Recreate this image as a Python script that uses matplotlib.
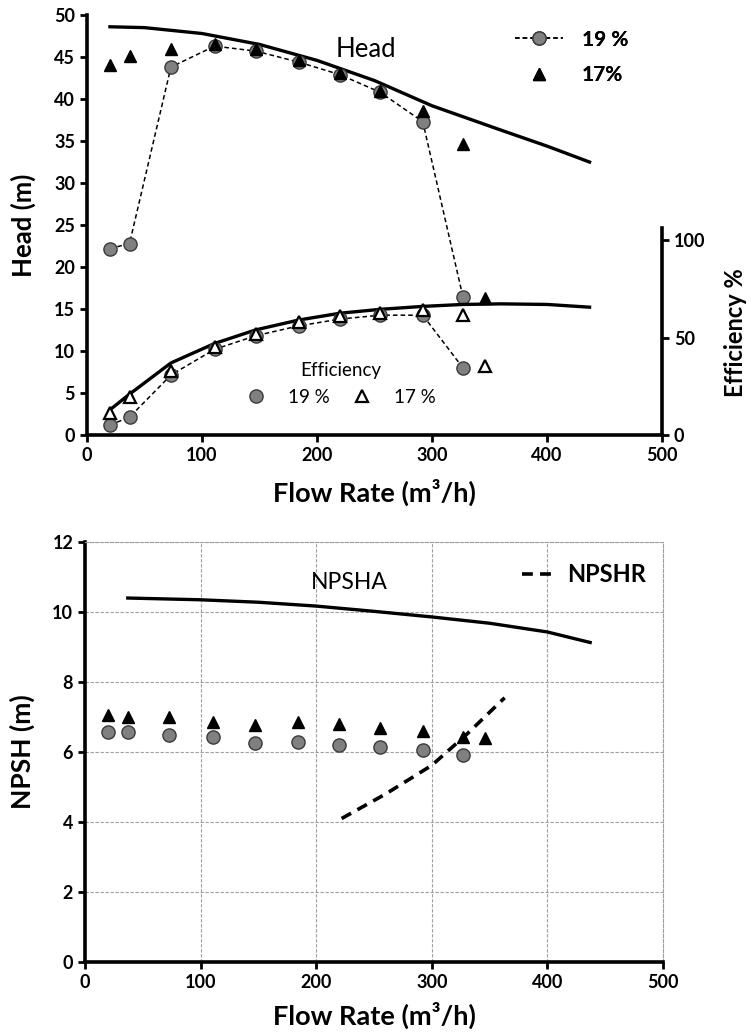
import matplotlib
matplotlib.use("Agg")
import matplotlib.pyplot as plt
from matplotlib.lines import Line2D

plt.rcParams['font.family'] = ['Lato', 'DejaVu Sans']

# ---------------- data ----------------
flow19 = [20, 37, 73, 111, 147, 184, 220, 255, 292, 327]
head19 = [22.2, 22.8, 43.8, 46.3, 45.7, 44.4, 42.9, 40.8, 37.3, 16.4]
eff19 = [5.2, 9.2, 30.8, 44.0, 51.0, 56.0, 59.5, 61.5, 61.5, 34.4]
npsh19 = [6.57, 6.56, 6.49, 6.43, 6.26, 6.28, 6.20, 6.14, 6.06, 5.91]

flow17 = [20, 37, 73, 111, 147, 184, 220, 255, 292, 327, 346]
head17 = [44.1, 45.1, 46.0, 46.6, 45.9, 44.6, 43.1, 41.0, 38.6, 34.7, 16.3]
eff17 = [11.3, 19.5, 33.0, 45.0, 52.0, 58.0, 61.0, 62.5, 64.0, 61.5, 35.4]
npsh17 = [7.05, 7.0, 7.0, 6.86, 6.77, 6.86, 6.8, 6.7, 6.6, 6.43, 6.4]

head_curve_flow = [20, 50, 100, 150, 200, 250, 300, 360, 400, 437]
head_curve = [48.6, 48.5, 47.8, 46.5, 44.6, 42.2, 39.2, 36.3, 34.4, 32.5]

eff_curve_flow = [20, 37, 73, 111, 147, 184, 220, 255, 292, 327, 360, 400, 437]
eff_curve = [13, 21, 37, 47, 54, 59, 62.5, 64.5, 66, 67, 67.3, 67, 65.6]

npsha_flow = [37, 100, 150, 200, 250, 300, 350, 400, 437]
npsha = [10.4, 10.35, 10.28, 10.17, 10.02, 9.86, 9.68, 9.43, 9.13]

npshr_flow = [222, 260, 300, 330, 363]
npshr = [4.1, 4.8, 5.62, 6.5, 7.55]

x_ticks = [0, 100, 200, 300, 400, 500]
head_ticks = [0, 5, 10, 15, 20, 25, 30, 35, 40, 45, 50]
eff_ticks = [0, 50, 100]
npsh_ticks = [0, 2, 4, 6, 8, 10, 12]

# ---------------- styles ----------------
GREY = '#808080'
EDGE = '#3a3a3a'
circ = dict(marker='o', markersize=9.5, markerfacecolor=GREY,
            markeredgecolor=EDGE, markeredgewidth=1.0)
tri = dict(marker='^', markersize=8, color='black', linestyle='none')
otri = dict(marker='^', markersize=8.5, markerfacecolor='white',
            markeredgecolor='black', markeredgewidth=1.6, linestyle='none')

fig = plt.figure(figsize=(7.51, 10.36), dpi=100)

def style_axis(a):
    a.tick_params(axis='both', which='major', direction='out', length=5,
                  width=2.0, labelsize=13)
    for lab in a.get_xticklabels() + a.get_yticklabels():
        lab.set_fontweight('bold')

# ================= top chart =================
ax = fig.add_axes([0.1158, 0.580, 0.7657, 0.4055])
ax.plot(head_curve_flow, head_curve, color='black', lw=2.4, zorder=3)
ax.plot(flow19, head19, linestyle=(0, (3, 2)), color='black', lw=1.1,
        zorder=4, **circ)
ax.plot(flow17, head17, zorder=5, **tri)
ax.set_xlim(0, 500)
ax.set_ylim(0, 50)
ax.set_xticks(x_ticks)
ax.set_yticks(head_ticks)
for s in ['top', 'right']:
    ax.spines[s].set_visible(False)
for s in ['left', 'bottom']:
    ax.spines[s].set_linewidth(2.6)
style_axis(ax)
ax.set_xlabel('Flow Rate (m³/h)', fontsize=19.5, fontweight='bold')
ax.xaxis.set_label_coords(0.5, -0.105)
ax.set_ylabel('Head (m)', fontsize=18.5, fontweight='bold')
ax.yaxis.set_label_coords(-0.089, 0.5)

ax.text(243, 45.9, 'Head', fontsize=18.5, ha='center', va='center')

leg_handles = [
    Line2D([], [], linestyle=(0, (3, 2)), color='black', lw=1.1, **circ),
    Line2D([], [], **tri),
]
leg = ax.legend(leg_handles, ['19 %', '17%'], loc='upper left',
                bbox_to_anchor=(0.712, 1.01), frameon=False,
                prop={'size': 15, 'weight': 'bold'}, handlelength=2.3,
                handletextpad=0.9, labelspacing=0.75)
ax.add_artist(leg)

# efficiency overlay
ax2 = ax.twinx()
ax2.set_ylim(0, 215.4)
ax2.plot(eff_curve_flow, eff_curve, color='black', lw=2.4, zorder=3)
ax2.plot(flow19, eff19, linestyle=(0, (3, 2)), color='black', lw=1.1,
         zorder=4, **circ)
ax2.plot(flow17, eff17, zorder=5, **otri)
ax2.set_yticks(eff_ticks)
for s in ['top', 'left', 'bottom']:
    ax2.spines[s].set_visible(False)
ax2.spines['right'].set_linewidth(2.6)
ax2.spines['right'].set_bounds(0, 106)
style_axis(ax2)
ax2.set_ylabel('Efficiency %', fontsize=17, fontweight='bold')
ax2.yaxis.set_label_coords(1.108, 0.245)

eff_handles = [
    Line2D([], [], linestyle='none', **circ),
    Line2D([], [], **otri),
]
leg2 = ax2.legend(eff_handles, ['19 %', '17 %'], loc='center',
                  bbox_to_anchor=(0.442, 0.122), ncol=2, frameon=False,
                  title='Efficiency', title_fontproperties={'size': 13.5},
                  prop={'size': 13.5}, handlelength=1.0, handletextpad=1.2,
                  columnspacing=1.2)

# ================= bottom chart =================
bx = fig.add_axes([0.1132, 0.0714, 0.7696, 0.4054])
bx.grid(True, color='#a0a0a0', linestyle=(0, (3, 1.5)), lw=0.8)
bx.set_axisbelow(True)
bx.plot(npsha_flow, npsha, color='black', lw=2.4, zorder=3)
bx.plot(npshr_flow, npshr, color='black', lw=2.6, linestyle=(0, (3, 2)),
        zorder=3, label='NPSHR')
bx.plot(flow19, npsh19, linestyle='none', zorder=4, **circ)
bx.plot(flow17, npsh17, zorder=5, **tri)
bx.set_xlim(0, 500)
bx.set_ylim(0, 12)
bx.set_xticks(x_ticks)
bx.set_yticks(npsh_ticks)
for s in ['top', 'right']:
    bx.spines[s].set_linestyle((0, (3, 1.5)))
    bx.spines[s].set_color('#a0a0a0')
    bx.spines[s].set_linewidth(0.8)
for s in ['left', 'bottom']:
    bx.spines[s].set_linewidth(2.6)
style_axis(bx)
bx.set_xlabel('Flow Rate (m³/h)', fontsize=19.5, fontweight='bold')
bx.xaxis.set_label_coords(0.5, -0.095)
bx.set_ylabel('NPSH (m)', fontsize=19, fontweight='bold')
bx.yaxis.set_label_coords(-0.087, 0.5)
bx.text(229, 10.83, 'NPSHA', fontsize=16.5, ha='center', va='center')
bx.legend(loc='upper left', bbox_to_anchor=(0.72, 1.0), frameon=False,
          prop={'size': 17, 'weight': 'bold'}, handlelength=1.3,
          handletextpad=0.6)

fig.savefig('out.png', dpi=100)
